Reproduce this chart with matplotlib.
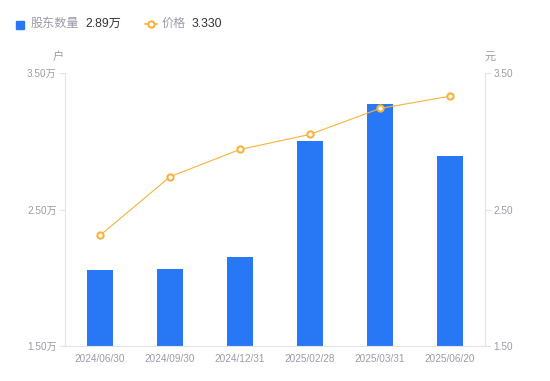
import numpy as np
import matplotlib
matplotlib.use("Agg")
import matplotlib.pyplot as plt
from matplotlib.lines import Line2D
from matplotlib.patches import Rectangle

plt.rcParams['font.family'] = ['Liberation Sans', 'Noto Sans CJK SC', 'DejaVu Sans']

dates = ["2024/06/30", "2024/09/30", "2024/12/31", "2025/02/28", "2025/03/31", "2025/06/20"]
holders = [2.06, 2.065, 2.15, 3.00, 3.27, 2.89]   # 万户
price = [2.31, 2.74, 2.94, 3.05, 3.24, 3.33]      # 元

blue = "#2878F5"
orange = "#F9B23A"
grey = "#9B9BAA"
axis_col = "#E3E3E8"

fig = plt.figure(figsize=(5.5, 3.81), dpi=100)
ax = fig.add_axes([65 / 550, 35 / 381, 420 / 550, 273 / 381])
ax2 = ax.twinx()

x = np.arange(len(dates))
ax.bar(x, holders, width=0.36, color=blue, bottom=0, zorder=2)
ax.set_ylim(1.5, 3.5)
ax.set_xlim(-0.5, len(dates) - 0.5)
ax.set_yticks([1.5, 2.5, 3.5])
ax.set_yticklabels([f"{v:.2f}万" for v in [1.5, 2.5, 3.5]])
ax.set_xticks(x)
ax.set_xticklabels(dates)

ax2.plot(x, price, color=orange, lw=0.8, marker="o", ms=4.5, mfc="white",
         mec=orange, mew=1.5, zorder=3)
ax2.set_ylim(1.5, 3.5)
ax2.set_yticks([1.5, 2.5, 3.5])
ax2.set_yticklabels([f"{v:.2f}" for v in [1.5, 2.5, 3.5]])

for a in (ax, ax2):
    for s in a.spines.values():
        s.set_visible(False)
    a.tick_params(colors=axis_col, labelcolor=grey, labelsize=7.2, length=4, width=0.8)
ax.spines['left'].set_visible(True)
ax.spines['left'].set_color(axis_col)
ax.spines['bottom'].set_visible(True)
ax.spines['bottom'].set_color(axis_col)
ax2.spines['right'].set_visible(True)
ax2.spines['right'].set_color(axis_col)
ax.tick_params(axis='x', length=0, pad=6)
ax.tick_params(axis='y', pad=2)
ax2.tick_params(axis='y', pad=2)

fig.text(58 / 550, 1 - 57 / 381, "户", color=grey, fontsize=8, ha='center', va='center')
fig.text(490 / 550, 1 - 57 / 381, "元", color=grey, fontsize=8, ha='center', va='center')

# legend
fig.patches.append(Rectangle((16 / 550, 1 - 29 / 381), 8 / 550, 8 / 381,
                             transform=fig.transFigure, color=blue, figure=fig))
fig.text(31 / 550, 1 - 24 / 381, "股东数量", color=grey, fontsize=8.7, va='center')
fig.text(85 / 550, 1 - 24 / 381, "2.89万", color="#333333", fontsize=8.7, va='center')
fig.lines.append(Line2D([145 / 550, 157 / 550], [1 - 24 / 381] * 2, transform=fig.transFigure,
                        color=orange, lw=1.2))
fig.lines.append(Line2D([151 / 550], [1 - 24 / 381], transform=fig.transFigure, color=orange,
                        marker="o", ms=4.5, mfc="white", mew=1.5, lw=0))
fig.text(162 / 550, 1 - 24 / 381, "价格", color=grey, fontsize=8.7, va='center')
fig.text(192 / 550, 1 - 24 / 381, "3.330", color="#333333", fontsize=8.7, va='center')

fig.savefig("out.png", dpi=100)
